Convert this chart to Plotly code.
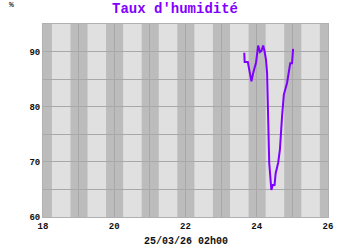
import plotly.graph_objects as go

# Humidity series (day of month, %)
x_vals = [23.65, 23.66, 23.75, 23.85, 23.90, 23.98, 24.04, 24.09, 24.13, 24.18,
          24.22, 24.26, 24.29, 24.32, 24.35, 24.41, 24.45, 24.50, 24.53, 24.60,
          24.65, 24.71, 24.76, 24.85, 24.89, 24.94, 24.99, 25.02]
y_vals = [89.8, 88.1, 88.1, 84.6, 86.1, 88.0, 91.1, 89.9, 90.1, 91.1,
          90.0, 88.5, 86.1, 78.9, 69.8, 64.9, 65.8, 65.8, 67.9, 69.8,
          72.2, 78.2, 82.2, 84.3, 86.1, 87.9, 87.9, 90.5]

# Night bands (start, end) in days
night_start = [17.77, 18.77, 19.77, 20.77, 21.77, 22.77, 23.77, 24.77, 25.77]
night_end = [18.25, 19.25, 20.25, 21.25, 22.25, 23.25, 24.25, 25.25, 26.25]

x_range = [18, 26]
y_range = [60, 95]

font_mono = "Liberation Mono"
purple = "#7f00ff"

fig = go.Figure()
fig.add_trace(go.Scatter(x=x_vals, y=y_vals, mode="lines",
                         line=dict(color=purple, width=2), hoverinfo="skip"))

shapes = []
for s, e in zip(night_start, night_end):
    shapes.append(dict(type="rect", xref="x", yref="paper", x0=s, x1=e, y0=0, y1=1,
                       fillcolor="#bcbcbc", line=dict(width=0), layer="below"))

fig.update_layout(
    width=350, height=250,
    margin=dict(l=43, r=22, t=24, b=33),
    paper_bgcolor="white", plot_bgcolor="#e0e0e0",
    showlegend=False,
    shapes=shapes,
    title=dict(text="<b>Taux d'humidité</b>", x=0.5, xanchor="center", y=0.968, yanchor="middle",
               font=dict(family=font_mono, size=14, color=purple)),
    annotations=[
        dict(text="<b>%</b>", xref="paper", yref="paper", x=-0.11, y=1.1, xanchor="center",
             yanchor="middle", showarrow=False, font=dict(family=font_mono, size=8, color="#333")),
        dict(text="<b>25/03/26 02h00</b>", xref="paper", yref="paper", x=0.5, y=-0.125,
             xanchor="center", yanchor="middle", showarrow=False,
             font=dict(family=font_mono, size=10, color="#111")),
    ],
    xaxis=dict(range=x_range, dtick=2, tick0=18, showgrid=True, gridcolor="#a8a8a8", gridwidth=1,
               minor=dict(dtick=1, showgrid=True, gridcolor="#a8a8a8", gridwidth=1),
               zeroline=False, showline=True, linecolor="#b0b0b0", mirror=True,
               tickfont=dict(family=font_mono, size=9, color="#111", weight="bold"), ticks="", ticklen=0,
               fixedrange=True),
    yaxis=dict(range=y_range, dtick=10, tick0=60, showgrid=True, gridcolor="#a8a8a8", gridwidth=1,
               minor=dict(dtick=5, showgrid=True, gridcolor="#a8a8a8", gridwidth=1),
               zeroline=False, showline=True, linecolor="#b0b0b0", mirror=True,
               tickfont=dict(family=font_mono, size=9, color="#111", weight="bold"), ticks="", ticklen=0,
               fixedrange=True),
)

fig.write_html("out.html", config={"displayModeBar": False})
